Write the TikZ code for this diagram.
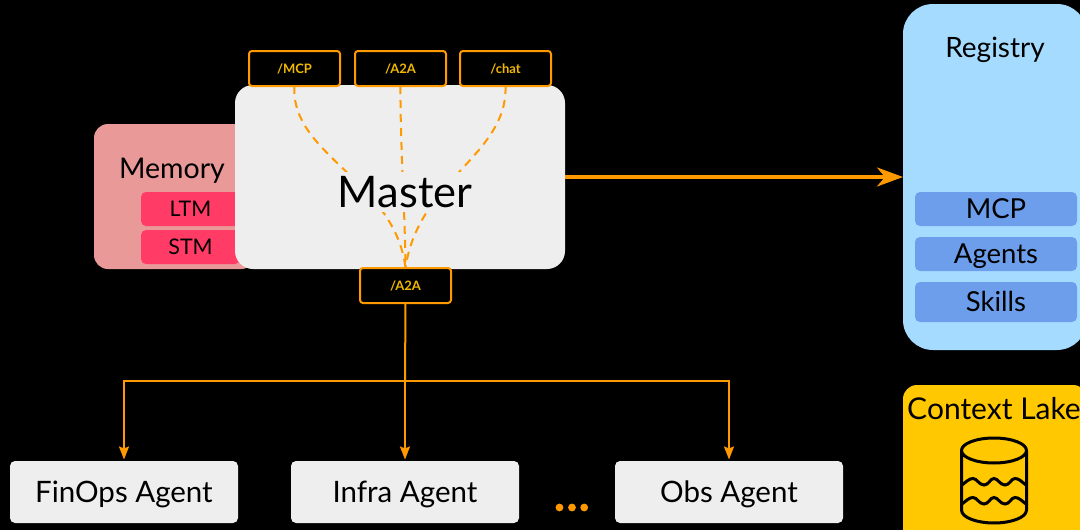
\documentclass[tikz,border=0pt]{standalone}
\usepackage{fontspec}
\setmainfont{Lato}
\usetikzlibrary{arrows.meta}
\definecolor{lineor}{HTML}{FF9900}
\definecolor{porttxt}{HTML}{F1B800}
\definecolor{panel}{HTML}{EEEEEE}
\definecolor{memfill}{HTML}{EA9999}
\definecolor{memsub}{HTML}{FF3B66}
\definecolor{regfill}{HTML}{A4DBFF}
\definecolor{regsub}{HTML}{6D9EEB}
\definecolor{lakefill}{HTML}{FFC800}
\newcommand{\fs}[1]{\fontsize{#1}{#1}\selectfont}
\newcommand{\tx}[1]{\rule{0pt}{.72em}\smash{#1}}
\tikzset{
  box/.style={rectangle,inner sep=0pt,outer sep=0pt,anchor=north west,text=black},
  port/.style={box,draw=lineor,line width=2pt,fill=black,rounded corners=3pt,text=porttxt,font=\bfseries\fs{13},minimum width=91pt,minimum height=35pt},
  agent/.style={box,fill=panel,rounded corners=5pt,font=\fs{29.5},minimum width=228pt,minimum height=62pt},
  memsubbox/.style={box,fill=memsub,rounded corners=5pt,font=\fs{21.5},minimum width=99pt,minimum height=34pt},
  regsubbox/.style={box,fill=regsub,rounded corners=5pt,font=\fs{27.5},minimum width=162pt},
  dashconn/.style={draw=lineor,line width=2pt,dash pattern=on 8pt off 6pt},
  solidconn/.style={draw=lineor,line width=2pt,shorten >=1.5pt,-{Stealth[length=13pt,width=10pt,inset=2pt]}},
  lbl/.style={inner sep=0pt},
}
\begin{document}
\begin{tikzpicture}[x=1pt,y=-1pt]
\useasboundingbox (0,0) rectangle (1080,530);
\fill[black] (0,0) rectangle (1080,530);
\begin{scope}
\clip (0,0) rectangle (1080,530);
% Memory
\node[box,fill=memfill,rounded corners=14pt,minimum width=161pt,minimum height=145pt] (memory) at (94,124) {};
\node[lbl,font=\fs{28.5}] (memlabel) at (172,168) {\tx{Memory}};
\node[memsubbox] (ltm) at (141,192) {\tx{LTM}};
\node[memsubbox] (stm) at (141,230) {\tx{STM}};
% Master
\node[box,fill=panel,rounded corners=18pt,minimum width=330pt,minimum height=184pt] (master) at (235,85) {};
% Ports
\node[port] (pmcp) at (249,51) {\tx{/MCP}};
\node[port] (pa2a) at (355,51) {\tx{/A2A}};
\node[port] (pchat) at (460,51) {\tx{/chat}};
\node[port] (pout) at (360,268) {\tx{/A2A}};
% dashed internal routes
\draw[dashconn] (pmcp.south) .. controls (290,155) and (395,180) .. (pout.north);
\draw[dashconn] (pa2a.south) .. controls (400,140) and (405,210) .. (pout.north);
\draw[dashconn] (pchat.south) .. controls (508,155) and (418,180) .. (pout.north);
\node[lbl,fill=panel,minimum width=136pt,minimum height=40pt,font=\fs{43.5}] (masterlabel) at (405,191.5) {\tx{Master}};
% Registry
\node[box,fill=regfill,rounded corners=30pt,minimum width=184pt,minimum height=346pt] (registry) at (903,4) {};
\node[lbl,font=\fs{28}] (reglabel) at (995,47) {\tx{Registry}};
\node[regsubbox,minimum height=34pt] (rmcp) at (915,192) {\tx{MCP}};
\node[regsubbox,minimum height=34pt] (ragents) at (915,237) {\tx{Agents}};
\node[regsubbox,minimum height=40pt] (rskills) at (915,282) {\tx{Skills}};
% Context lake
\node[box,fill=lakefill,rounded corners=14pt,minimum width=184pt,minimum height=160pt] (lake) at (903,385) {};
\node[lbl,font=\fs{30}] (lakelabel) at (994,409) {\tx{Context Lake}};
\draw[black,line width=3pt,line join=round]
  (994,450.5) ellipse [x radius=32.5,y radius=12.5]
  (961.5,450.5) -- (961.5,510) .. controls (961.5,518) and (978,523) .. (994,523) .. controls (1010,523) and (1026.5,518) .. (1026.5,510) -- (1026.5,450.5);
\foreach \yy in {485,504}{
 \draw[black,line width=3pt]
  (962,\yy) .. controls (966,\yy-3) and (969,\yy-6.5) .. (973,\yy-6.5)
  .. controls (977,\yy-6.5) and (979,\yy) .. (984,\yy)
  .. controls (989,\yy) and (990,\yy-6.5) .. (994,\yy-6.5)
  .. controls (998,\yy-6.5) and (1000,\yy) .. (1005,\yy)
  .. controls (1010,\yy) and (1011,\yy-6.5) .. (1015,\yy-6.5)
  .. controls (1019,\yy-6.5) and (1022,\yy-3) .. (1026,\yy);
}
% Agents
\node[agent] (finops) at (10,461) {\tx{FinOps Agent}};
\node[agent] (infra) at (291,461) {\tx{Infra Agent}};
\node[agent] (obs) at (615,461) {\tx{Obs Agent}};
\foreach \xx in {559.5,572,584.2}{\fill[lineor] (\xx,507.5) circle (3.9);}
% Connectors
\coordinate (junction) at (405,381);
\draw[draw=lineor,line width=2pt] (pout.south) -- (junction);
\draw[solidconn] (junction) -| (finops.north);
\draw[solidconn] (junction) -- (infra.north);
\draw[solidconn] (junction) -| (obs.north);
\coordinate (arrowstart) at (master.east |- 0,177);
\coordinate (arrowend) at (registry.west |- 0,177);
\draw[draw=lineor,line width=3.5pt,-{Stealth[length=26pt,width=19pt,inset=8pt]}] (arrowstart) -- (arrowend);
\end{scope}
\end{tikzpicture}
\end{document}
